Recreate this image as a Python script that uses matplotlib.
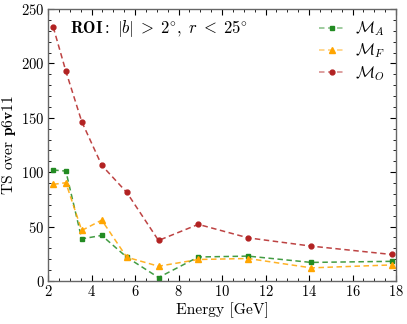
import matplotlib
matplotlib.use('Agg')
import matplotlib.pyplot as plt
from matplotlib.ticker import MultipleLocator
from matplotlib.colors import to_rgba

plt.rcParams['font.family'] = 'serif'
plt.rcParams['font.serif'] = ['cmr10']
plt.rcParams['mathtext.fontset'] = 'cm'
plt.rcParams['axes.formatter.use_mathtext'] = True
plt.rcParams['axes.unicode_minus'] = False

# energy bin centres [GeV]
energy = [2.24, 2.82, 3.55, 4.47, 5.62, 7.08, 8.91, 11.2, 14.1, 17.8]
# TS values for each model
ts_A = [102, 101, 38.7, 41.8, 21.8, 3.1, 22.0, 22.8, 17.0, 18.0]
ts_F = [88.8, 90.3, 46.4, 55.9, 21.8, 13.5, 19.7, 20.6, 12.0, 14.7]
ts_O = [233.4, 192.9, 146.5, 106.3, 81.4, 37.2, 52.0, 39.6, 32.0, 24.3]
colors = ['forestgreen', 'orange', 'firebrick']

fig = plt.figure(figsize=(4.07, 3.24), dpi=100)
ax = fig.add_axes([0.118, 0.133, 0.855, 0.839])

def draw(y, c, m, ms, lab):
    ax.plot(energy, y, ls=(0, (3.6, 2.3)), color=to_rgba(c, 0.85), marker=m, ms=ms,
            mfc=c, mec=c, lw=1.1, label=lab)

draw(ts_A, colors[0], 's', 3.5, r'$\mathcal{M}_A$')
draw(ts_F, colors[1], '^', 4.5, r'$\mathcal{M}_F$')
draw(ts_O, colors[2], 'o', 3.5, r'$\mathcal{M}_O$')

ax.set_xlim(2, 18)
ax.set_ylim(0, 250)
ax.xaxis.set_major_locator(MultipleLocator(2))
ax.xaxis.set_minor_locator(MultipleLocator(0.5))
ax.yaxis.set_major_locator(MultipleLocator(50))
ax.yaxis.set_minor_locator(MultipleLocator(10))
ax.tick_params(which='both', direction='in', top=True, right=True, labelsize=10.5)
ax.tick_params(which='major', length=4, pad=2.5)
ax.tick_params(which='minor', length=2)
for s in ax.spines.values():
    s.set_color('0.4')
    s.set_linewidth(1.0)

ax.set_xlabel('Energy [GeV]', fontsize=11.2, labelpad=2)
ax.set_ylabel(r'TS over $\mathbf{p6v11}$', fontsize=11.2, labelpad=2)
ax.text(0.063, 0.93, r'$\mathbf{ROI{:}}\ |b|\;>\;2^{\circ},\ r\;<\;25^{\circ}$',
        transform=ax.transAxes, fontsize=12, va='center')

leg = ax.legend(loc='upper right', frameon=False, fontsize=11.5, handlelength=1.7,
                labelspacing=0.22, borderaxespad=0.25, handletextpad=0.6)
for h, c in zip(leg.legend_handles, colors):
    h.set_color(to_rgba(c, 0.55))
    h.set_markerfacecolor(c)
    h.set_markeredgecolor(c)

fig.savefig('out.png', dpi=100)
